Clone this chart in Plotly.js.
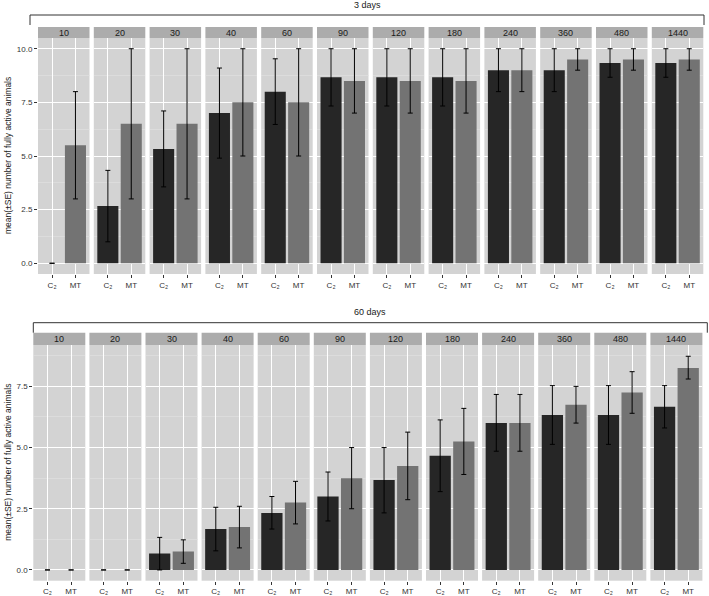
<!DOCTYPE html>
<html>
<head>
<meta charset="utf-8">
<script src="https://cdn.plot.ly/plotly-3.0.1.min.js"></script>
<style>
  html, body { margin: 0; padding: 0; background: #fff; }
  #chart { width: 709px; height: 596px; }
</style>
</head>
<body>
<div id="chart"></div>
<script>
// minutos (facetas)
const times = ['10', '20', '30', '40', '60', '90', '120', '180', '240', '360', '480', '1440'];
const groups = ['C₂', 'MT'];

// 3 days: media y limites del error (±SE)
const c2_3d = [0, 2.67, 5.33, 7.0, 8.0, 8.67, 8.67, 8.67, 9.0, 9.0, 9.33, 9.33];
const c2_3d_lo = [0, 1.0, 3.56, 4.9, 6.47, 7.33, 7.33, 7.33, 8.0, 8.0, 8.67, 8.67];
const c2_3d_hi = [0, 4.33, 7.1, 9.1, 9.53, 10, 10, 10, 10, 10, 10, 10];
const mt_3d = [5.5, 6.5, 6.5, 7.5, 7.5, 8.5, 8.5, 8.5, 9.0, 9.5, 9.5, 9.5];
const mt_3d_lo = [3, 3, 3, 5, 5, 7, 7, 7, 8, 9, 9, 9];
const mt_3d_hi = [8, 10, 10, 10, 10, 10, 10, 10, 10, 10, 10, 10];

// 60 days
const c2_60d = [0, 0, 0.67, 1.67, 2.33, 3.0, 3.67, 4.67, 6.0, 6.33, 6.33, 6.67];
const c2_60d_lo = [0, 0, 0, 0.78, 1.67, 2.0, 2.33, 3.2, 4.85, 5.13, 5.13, 5.8];
const c2_60d_hi = [0, 0, 1.33, 2.56, 3.0, 4.0, 5.0, 6.13, 7.17, 7.53, 7.53, 7.53];
const mt_60d = [0, 0, 0.75, 1.75, 2.75, 3.75, 4.25, 5.25, 6.0, 6.75, 7.25, 8.25];
const mt_60d_lo = [0, 0, 0.27, 0.9, 1.88, 2.5, 2.87, 3.9, 4.85, 6.0, 6.4, 7.8];
const mt_60d_hi = [0, 0, 1.23, 2.6, 3.62, 5.0, 5.63, 6.6, 7.17, 7.5, 8.1, 8.73];

const W = 709, H = 596;
const FONT = 'Liberation Sans, Arial, sans-serif';
const barColors = ['#262626', '#737373'];

// geometria de cada fila (px)
const rows = [
  { title: '3 days', x0: 38, pitch: 55.8, pw: 51.5, top: 38, bottom: 274, stripTop: 27,
    range: [-0.5, 10.5], ticks: [0, 2.5, 5, 7.5, 10],
    bracket: { x0: 30, x1: 704, y: 15, yEnd: 25 }, titleY: 5,
    c2: c2_3d, c2lo: c2_3d_lo, c2hi: c2_3d_hi, mt: mt_3d, mtlo: mt_3d_lo, mthi: mt_3d_hi },
  { title: '60 days', x0: 33.3, pitch: 56.1, pw: 52, top: 345, bottom: 580.7, stripTop: 332.7,
    range: [-0.44, 9.19], ticks: [0, 2.5, 5, 7.5],
    bracket: { x0: 33.3, x1: 707.3, y: 322.7, yEnd: 332.7 }, titleY: 312,
    c2: c2_60d, c2lo: c2_60d_lo, c2hi: c2_60d_hi, mt: mt_60d, mtlo: mt_60d_lo, mthi: mt_60d_hi }
];

const px = v => v / W;
const py = v => 1 - v / H;
const sfx = k => (k === 1 ? '' : String(k));

const data = [];
const layout = {
  width: W, height: H,
  margin: { l: 0, r: 0, t: 0, b: 0 },
  paper_bgcolor: '#fff',
  plot_bgcolor: '#d3d3d3',
  showlegend: false,
  font: { family: FONT, color: '#1a1a1a' },
  shapes: [],
  annotations: []
};

rows.forEach((row, r) => {
  const firstY = 'y' + sfx(r * 12 + 1);
  times.forEach((t, c) => {
    const k = r * 12 + c + 1;
    const xa = 'xaxis' + sfx(k), ya = 'yaxis' + sfx(k);
    const left = row.x0 + c * row.pitch;
    const right = left + row.pw;

    const vals = [row.c2[c], row.mt[c]];
    const lo = [row.c2lo[c], row.mtlo[c]];
    const hi = [row.c2hi[c], row.mthi[c]];

    data.push({
      type: 'bar',
      x: groups,
      y: vals,
      width: 0.9,
      marker: { color: barColors, line: { width: 0 } },
      error_y: {
        type: 'data',
        symmetric: false,
        array: hi.map((h, i) => h - vals[i]),
        arrayminus: lo.map((l, i) => vals[i] - l),
        color: '#000',
        thickness: 1,
        width: 2.5
      },
      xaxis: 'x' + sfx(k),
      yaxis: 'y' + sfx(k),
      hoverinfo: 'skip'
    });

    layout[xa] = {
      domain: [px(left), px(right)],
      anchor: 'y' + sfx(k),
      type: 'category',
      range: [-0.6, 1.6],
      showgrid: true, gridcolor: '#ffffff', gridwidth: 1,
      zeroline: false, showline: false,
      ticks: 'outside', ticklen: 3, tickcolor: '#333', tickwidth: 1,
      tickfont: { size: 8, color: '#333', family: FONT },
      fixedrange: true
    };
    layout[ya] = {
      domain: [py(row.bottom), py(row.top)],
      anchor: 'x' + sfx(k),
      range: row.range,
      tickmode: 'array',
      tickvals: row.ticks,
      ticktext: row.ticks.map(v => v.toFixed(1)),
      showgrid: true, gridcolor: '#ffffff', gridwidth: 1,
      minor: { tickmode: 'linear', dtick: 1.25, tick0: 0, showgrid: true, gridcolor: '#e2e2e2', gridwidth: 0.6 },
      zeroline: false, showline: false,
      showticklabels: c === 0,
      ticks: c === 0 ? 'outside' : '',
      ticklen: 3, tickcolor: '#333', tickwidth: 1,
      tickfont: { size: 8, color: '#333', family: FONT },
      fixedrange: true
    };
    if (c !== 0) layout[ya].matches = firstY;

    // tira con el tiempo
    layout.shapes.push({
      type: 'rect', xref: 'paper', yref: 'paper',
      x0: px(left), x1: px(right), y0: py(row.top), y1: py(row.stripTop),
      fillcolor: '#acacac', line: { width: 0 }, layer: 'above'
    });
    layout.annotations.push({
      xref: 'paper', yref: 'paper',
      x: px((left + right) / 2), y: py((row.top + row.stripTop) / 2),
      text: t, showarrow: false,
      xanchor: 'center', yanchor: 'middle',
      font: { size: 9, color: '#1a1a1a', family: FONT }
    });
  });

  // corchete y titulo de la fila
  const b = row.bracket;
  layout.shapes.push({
    type: 'path', xref: 'paper', yref: 'paper',
    path: `M ${px(b.x0)} ${py(b.yEnd)} L ${px(b.x0)} ${py(b.y)} L ${px(b.x1)} ${py(b.y)} L ${px(b.x1)} ${py(b.yEnd)}`,
    line: { color: '#333', width: 1 }
  });
  layout.annotations.push({
    xref: 'paper', yref: 'paper',
    x: px((b.x0 + b.x1) / 2), y: py(row.titleY),
    text: row.title, showarrow: false,
    xanchor: 'center', yanchor: 'middle',
    font: { size: 9, color: '#1a1a1a', family: FONT }
  });

  // titulo del eje y
  layout.annotations.push({
    xref: 'paper', yref: 'paper',
    x: px(8), y: py((row.top + row.bottom) / 2),
    text: 'mean(±SE) number of fully active animals',
    textangle: -90, showarrow: false,
    xanchor: 'center', yanchor: 'middle',
    font: { size: 8.5, color: '#1a1a1a', family: FONT }
  });
});

Plotly.newPlot('chart', data, layout, { displayModeBar: false, staticPlot: true });
</script>
</body>
</html>
